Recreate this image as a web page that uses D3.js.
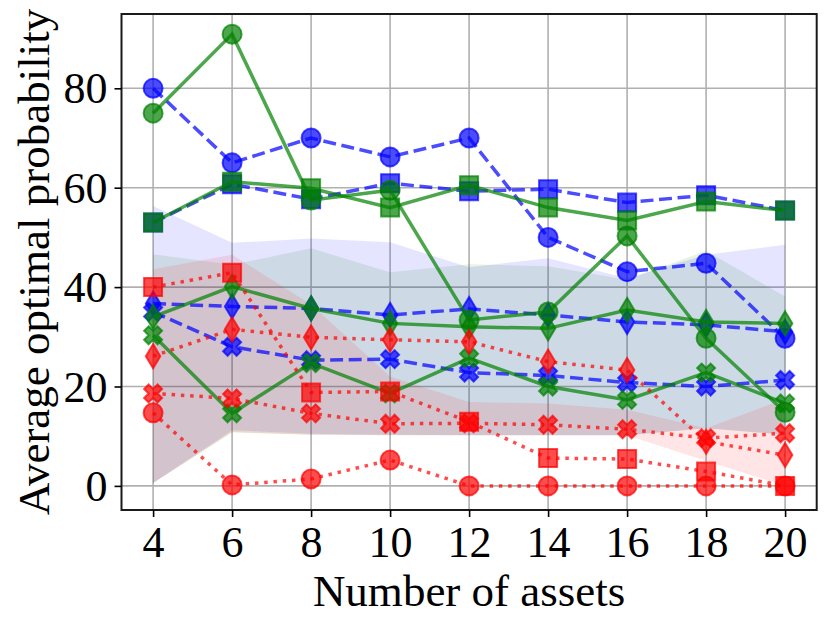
<!DOCTYPE html>
<html lang="en">
<head>
  <meta charset="UTF-8">
  <title>Average optimal probability</title>
  <style>
    body { margin: 0; background: #fff; }
    text { font-family: "Liberation Serif", "Times New Roman", "DejaVu Serif", serif; fill: #000; }
  </style>
</head>
<body>
  <script src="https://d3js.org/d3.v7.min.js"></script>
  <script>
    // Number of assets on the x axis
    let assets = [4, 6, 8, 10, 12, 14, 16, 18, 20];
    let xTicks = [4, 6, 8, 10, 12, 14, 16, 18, 20];
    let yTicks = [0, 20, 40, 60, 80];

    // Blue series (dashed)
    let blueCircle  = [80.0, 65.0, 70.0, 66.2, 70.0, 50.0, 43.1, 44.8, 29.7];
    let blueSquare  = [53.0, 60.7, 57.7, 60.9, 59.3, 59.7, 57.0, 58.5, 55.4];
    let blueDiamond = [36.7, 36.1, 35.7, 34.4, 35.6, 34.4, 33.0, 32.4, 31.0];
    let blueX       = [35.0, 28.0, 25.3, 25.5, 22.8, 22.2, 20.8, 20.0, 21.3];

    // Green series (solid)
    let greenCircle  = [75.0, 90.9, 57.5, 59.5, 33.4, 35.0, 50.3, 29.7, 14.8];
    let greenSquare  = [53.0, 61.2, 59.9, 56.0, 60.5, 56.0, 53.4, 57.2, 55.4];
    let greenDiamond = [34.0, 40.1, 35.7, 32.7, 32.0, 31.7, 35.4, 33.0, 32.7];
    let greenX       = [30.3, 14.6, 24.7, 18.6, 25.7, 20.0, 17.3, 22.8, 16.6];

    // Red series (dotted)
    let redCircle  = [14.7, 0.2, 1.4, 5.2, 0.0, 0.0, 0.0, 0.0, 0.0];
    let redSquare  = [40.0, 42.9, 18.8, 19.0, 12.9, 5.6, 5.4, 2.9, 0.0];
    let redDiamond = [26.1, 31.5, 29.9, 29.4, 29.0, 25.0, 23.3, 8.9, 6.2];
    let redX       = [18.6, 17.6, 14.6, 12.5, 12.6, 12.3, 11.4, 9.6, 10.6];

    // Shaded ranges
    let blueUpper  = [56.3, 48.9, 49.8, 49.0, 44.0, 45.8, 41.8, 46.5, 48.5];
    let blueLower  = [0.6, 11.2, 10.5, 10.3, 10.2, 10.2, 10.2, 11.6, 10.3];
    let greenUpper = [46.6, 44.5, 47.8, 43.0, 44.6, 44.2, 41.5, 47.3, 38.1];
    let greenLower = [0.6, 10.8, 10.3, 10.2, 10.2, 10.2, 10.2, 11.6, 10.3];
    let redUpper   = [43.6, 46.5, 36.5, 22.0, 16.9, 16.6, 15.3, 11.6, 17.5];
    let redLower   = [0.6, 10.8, 10.3, 10.2, 10.2, 10.2, 10.2, 5.0, 0.0];

    let svgWidth = 831;
    let svgHeight = 628;
    let margin = { top: 14, right: 14.3, bottom: 118, left: 121.5 };
    let chartWidth = svgWidth - margin.left - margin.right;
    let chartHeight = svgHeight - margin.top - margin.bottom;

    let svg = d3.select("body")
      .append("svg")
      .attr("width", svgWidth)
      .attr("height", svgHeight);

    let chartGroup = svg.append("g")
      .attr("transform", `translate(${margin.left}, ${margin.top})`);

    let xScale = d3.scaleLinear().domain([3.2, 20.8]).range([0, chartWidth]);
    let yScale = d3.scaleLinear().domain([-4.85, 94.95]).range([chartHeight, 0]);

    // grid
    chartGroup.append("g")
      .selectAll("line")
      .data(xTicks)
      .enter()
      .append("line")
      .attr("x1", d => xScale(d)).attr("x2", d => xScale(d))
      .attr("y1", 0).attr("y2", chartHeight)
      .attr("stroke", "#b0b0b0").attr("stroke-width", 1.6);

    chartGroup.append("g")
      .selectAll("line")
      .data(yTicks)
      .enter()
      .append("line")
      .attr("y1", d => yScale(d)).attr("y2", d => yScale(d))
      .attr("x1", 0).attr("x2", chartWidth)
      .attr("stroke", "#b0b0b0").attr("stroke-width", 1.6);

    // bands
    let bands = [
      { color: "#0000ff", upper: blueUpper, lower: blueLower },
      { color: "#008000", upper: greenUpper, lower: greenLower },
      { color: "#ff0000", upper: redUpper, lower: redLower }
    ];

    let area = d3.area()
      .x(d => xScale(d.x))
      .y0(d => yScale(d.lo))
      .y1(d => yScale(d.hi));

    bands.forEach(b => {
      let pts = assets.map((x, i) => ({ x: x, lo: b.lower[i], hi: b.upper[i] }));
      chartGroup.append("path")
        .attr("d", area(pts))
        .attr("fill", b.color)
        .attr("fill-opacity", 0.1);
    });

    // marker shapes, size in px
    let ms = 18;
    function markerPath(kind) {
      let h = ms / 2;
      if (kind === "circle") {
        let r = ms / 2 + 0.5;
        return `M${r},0A${r},${r} 0 1,1 ${-r},0A${r},${r} 0 1,1 ${r},0Z`;
      }
      if (kind === "square") {
        return `M${-h},${-h}L${h},${-h}L${h},${h}L${-h},${h}Z`;
      }
      if (kind === "diamond") {
        let hh = ms * Math.SQRT2 / 2 * 0.95;
        let hw = hh * 0.6;
        return `M0,${-hh}L${hw},0L0,${hh}L${-hw},0Z`;
      }
      // filled X
      let q = ms / 4;
      let p = [[-1, -2], [0, -1], [1, -2], [2, -1], [1, 0], [2, 1],
               [1, 2], [0, 1], [-1, 2], [-2, 1], [-1, 0], [-2, -1]];
      return "M" + p.map(v => `${v[0] * q},${v[1] * q}`).join("L") + "Z";
    }

    let lw = 3.5;
    let dashed = `${3.7 * lw},${1.6 * lw}`;
    let dotted = `${lw},${1.65 * lw}`;

    let seriesList = [
      { color: "#0000ff", dash: dashed, values: blueCircle, marker: "circle" },
      { color: "#0000ff", dash: dashed, values: blueSquare, marker: "square" },
      { color: "#0000ff", dash: dashed, values: blueDiamond, marker: "diamond" },
      { color: "#0000ff", dash: dashed, values: blueX, marker: "x" },
      { color: "#008000", dash: null, values: greenCircle, marker: "circle" },
      { color: "#008000", dash: null, values: greenSquare, marker: "square" },
      { color: "#008000", dash: null, values: greenDiamond, marker: "diamond" },
      { color: "#008000", dash: null, values: greenX, marker: "x" },
      { color: "#ff0000", dash: dotted, values: redCircle, marker: "circle" },
      { color: "#ff0000", dash: dotted, values: redSquare, marker: "square" },
      { color: "#ff0000", dash: dotted, values: redDiamond, marker: "diamond" },
      { color: "#ff0000", dash: dotted, values: redX, marker: "x" }
    ];

    let line = d3.line()
      .x((d, i) => xScale(assets[i]))
      .y(d => yScale(d));

    seriesList.forEach(s => {
      let g = chartGroup.append("g");
      g.append("path")
        .attr("d", line(s.values))
        .attr("fill", "none")
        .attr("stroke", s.color)
        .attr("stroke-opacity", 0.7)
        .attr("stroke-width", lw)
        .attr("stroke-dasharray", s.dash);

      g.selectAll(".marker")
        .data(s.values)
        .enter()
        .append("path")
        .attr("class", "marker")
        .attr("d", markerPath(s.marker))
        .attr("transform", (d, i) => `translate(${xScale(assets[i])}, ${yScale(d)})`)
        .attr("fill", s.color)
        .attr("fill-opacity", 0.7)
        .attr("stroke", s.color)
        .attr("stroke-opacity", 0.7)
        .attr("stroke-width", 2);
    });

    // frame
    chartGroup.append("rect")
      .attr("x", 0).attr("y", 0)
      .attr("width", chartWidth).attr("height", chartHeight)
      .attr("fill", "none")
      .attr("stroke", "#1a1a1a")
      .attr("stroke-width", 2);

    // axes
    let xAxis = d3.axisBottom(xScale).tickValues(xTicks).tickSize(7).tickPadding(9);
    let yAxis = d3.axisLeft(yScale).tickValues(yTicks).tickSize(7).tickPadding(7);

    let xAxisGroup = chartGroup.append("g")
      .attr("transform", `translate(0, ${chartHeight})`)
      .call(xAxis);
    let yAxisGroup = chartGroup.append("g").call(yAxis);

    [xAxisGroup, yAxisGroup].forEach(ax => {
      ax.select(".domain").remove();
      ax.selectAll(".tick line").attr("stroke", "#000").attr("stroke-width", 1.6);
      ax.selectAll(".tick text")
        .style("font-family", "'Liberation Serif', 'Times New Roman', serif")
        .style("font-size", "44px")
        .attr("fill", "#000");
    });
    yAxisGroup.selectAll(".tick text").attr("dy", "0.33em");
    xAxisGroup.selectAll(".tick text").attr("dy", "0.71em");

    // axis titles
    svg.append("text")
      .attr("x", margin.left + chartWidth / 2)
      .attr("y", 606)
      .attr("text-anchor", "middle")
      .style("font-size", "45px")
      .text("Number of assets");

    svg.append("text")
      .attr("transform", `translate(49, ${margin.top + chartHeight / 2}) rotate(-90)`)
      .attr("text-anchor", "middle")
      .style("font-size", "45px")
      .text("Average optimal probability");
  </script>
</body>
</html>
